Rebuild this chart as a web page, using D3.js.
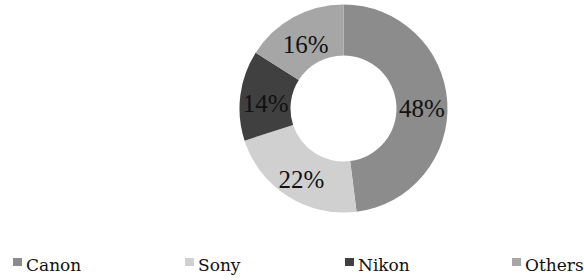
<!DOCTYPE html>
<html>
<head>
<meta charset="utf-8">
<script src="https://cdn.jsdelivr.net/npm/d3@7"></script>
<style>
  body { margin: 0; background: #fff; }
  svg { display: block; }
</style>
</head>
<body>
<div id="chart"></div>
<script>
// brands and their share (percent)
var brands = ['Canon', 'Sony', 'Nikon', 'Others'];
var shares = [48, 22, 14, 16];
var colors = ['#8c8c8c', '#d0d0d0', '#404040', '#a6a6a6'];
// left edge of each legend marker
var legendPos = [13, 185, 345, 512];

var width = 584, height = 280;
var cx = 343.5, cy = 108.5;
var outerR = 104, innerR = 53;

var svg = d3.select('#chart')
  .append('svg')
  .attr('width', width)
  .attr('height', height);

var color = d3.scaleOrdinal().domain(brands).range(colors);

var data = brands.map(function(b, i) { return { name: b, value: shares[i] }; });

var pie = d3.pie().sort(null).value(function(d) { return d.value; });
var arc = d3.arc().innerRadius(innerR).outerRadius(outerR);
var labelArc = d3.arc().innerRadius((innerR + outerR) / 2).outerRadius((innerR + outerR) / 2);

var g = svg.append('g').attr('transform', 'translate(' + cx + ',' + cy + ')');

g.selectAll('path')
  .data(pie(data))
  .enter().append('path')
  .attr('d', arc)
  .attr('fill', function(d) { return color(d.data.name); });

// percent labels in the ring
g.selectAll('text')
  .data(pie(data))
  .enter().append('text')
  .attr('x', function(d) { return labelArc.centroid(d)[0]; })
  .attr('y', function(d) { return labelArc.centroid(d)[1] + 5; })
  .attr('text-anchor', 'middle')
  .attr('dominant-baseline', 'central')
  .attr('font-family', '"Liberation Serif", "Times New Roman", serif')
  .attr('font-size', 25)
  .attr('fill', '#111')
  .text(function(d) { return d.data.value + '%'; });

// legend along the bottom
var legendX = d3.scaleOrdinal().domain(brands).range(legendPos);

var item = svg.selectAll('.legend')
  .data(brands)
  .enter().append('g')
  .attr('class', 'legend')
  .attr('transform', function(d) { return 'translate(' + legendX(d) + ',258)'; });

item.append('rect')
  .attr('width', 9)
  .attr('height', 8)
  .attr('fill', function(d) { return color(d); });

item.append('text')
  .attr('x', 13)
  .attr('y', 13)
  .attr('font-family', '"DejaVu Serif", serif')
  .attr('font-size', 17)
  .attr('fill', '#111')
  .text(function(d) { return d; });
</script>
</body>
</html>
